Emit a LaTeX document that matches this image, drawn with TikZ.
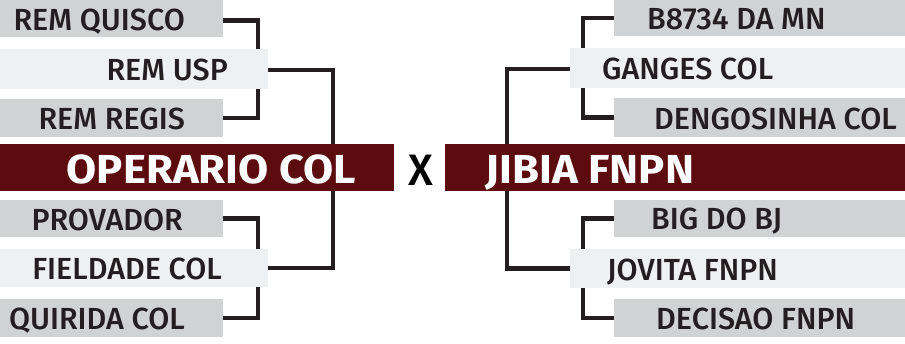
\documentclass[tikz,border=0pt]{standalone}
\usepackage{fontspec}
\setmainfont{Fira Sans}[UprightFont=* Medium, BoldFont=* Bold]
\newfontfamily\headfont{Fira Sans}[UprightFont=* Bold, FakeStretch=1.08]
\definecolor{bargray}{HTML}{D1D2D4}
\definecolor{barlight}{HTML}{EFF0F1}
\definecolor{barred}{HTML}{5C0C0E}
\definecolor{ink}{HTML}{231F20}
\begin{document}
\begin{tikzpicture}[x=1pt,y=-1pt,
  bar/.style={rectangle, inner sep=0, outer sep=0, draw=none, anchor=north west},
  gbar/.style={bar, fill=bargray},
  lbar/.style={bar, fill=barlight},
  rbar/.style={bar, fill=barred},
  team/.style={inner sep=0, font=\fontsize{30.5}{30}\selectfont, text=ink},
  tl/.style={team, anchor=base east},
  tr/.style={team, anchor=base west},
  big/.style={inner sep=0, font=\fontsize{40.5}{40}\headfont, text=white},
  conn/.style={draw=ink, line width=4.5pt, line join=miter}]
\useasboundingbox (0,0) rectangle (905,343);
% left bars
\node[gbar, minimum width=223, minimum height=37] (q1) at (0,0) {};
\node[lbar, minimum width=268, minimum height=40] (usp) at (0,49) {};
\node[gbar, minimum width=223, minimum height=38] (q3) at (0,99) {};
\node[gbar, minimum width=223, minimum height=37] (prov) at (0,200) {};
\node[lbar, minimum width=268, minimum height=38] (fld) at (0,249) {};
\node[gbar, minimum width=223, minimum height=38] (quir) at (0,299) {};
% right bars
\node[gbar, minimum width=291, minimum height=36] (b87) at (614,0) {};
\node[lbar, minimum width=335, minimum height=40] (gng) at (570,48) {};
\node[gbar, minimum width=291, minimum height=39] (deng) at (614,98) {};
\node[gbar, minimum width=291, minimum height=37] (bigbj) at (614,200) {};
\node[lbar, minimum width=335, minimum height=39] (jov) at (570,249) {};
\node[gbar, minimum width=291, minimum height=38] (dec) at (614,299) {};
% connectors
\draw[conn] ([yshift=-2pt]q1.east) -| ([xshift=-10]usp.north east);
\draw[conn] (q3.east) -| ([xshift=-10]usp.south east);
\draw[conn] (prov.east) -| ([xshift=-10]fld.north east);
\draw[conn] (quir.east) -| ([xshift=-10]fld.south east);
\draw[conn] ([yshift=-1pt]usp.east) -- ++(65,0) |- (fld.east);
\draw[conn] (b87.west) -| ([xshift=13]gng.north west);
\draw[conn] (deng.west) -| ([xshift=13]gng.south west);
\draw[conn] (bigbj.west) -| ([xshift=13]jov.north west);
\draw[conn] (dec.west) -| ([xshift=13]jov.south west);
\draw[conn] ([yshift=-1pt]gng.west) -- ++(-63,0) |- (jov.west);
% red bars
\node[rbar, minimum width=394, minimum height=47] (opr) at (0,144) {};
\node[rbar, minimum width=460, minimum height=47] (jib) at (445,144) {};
% texts
\node[tl] (t1) at (185,30) {REM QUISCO};
\node[tl] (t2) at (228,80.5) {REM USP};
\node[tl] (t3) at (185,129) {REM REGIS};
\node[tl] (t4) at (183,230) {PROVADOR};
\node[tl] (t5) at (222,279) {FIELDADE COL};
\node[tl] (t6) at (185,329.5) {QUIRIDA COL};
\node[tr] (t7) at (647,29) {B8734 DA MN};
\node[tr] (t8) at (602,79.5) {GANGES COL};
\node[tr] (t9) at (654,129) {DENGOSINHA COL};
\node[tr] (t10) at (651,229.5) {BIG DO BJ};
\node[tr] (t11) at (607,280) {JOVITA FNPN};
\node[tr] (t12) at (656,329.5) {DECISAO FNPN};
\node[big, anchor=base] (oprt) at (211.5,183) {OPERARIO COL};
\node[big, anchor=base] (jibt) at (590,183) {JIBIA FNPN};
\node[inner sep=0, anchor=base, font=\fontsize{44}{44}\selectfont, text=black] (vs) at (421,185) {X};
\end{tikzpicture}
\end{document}
